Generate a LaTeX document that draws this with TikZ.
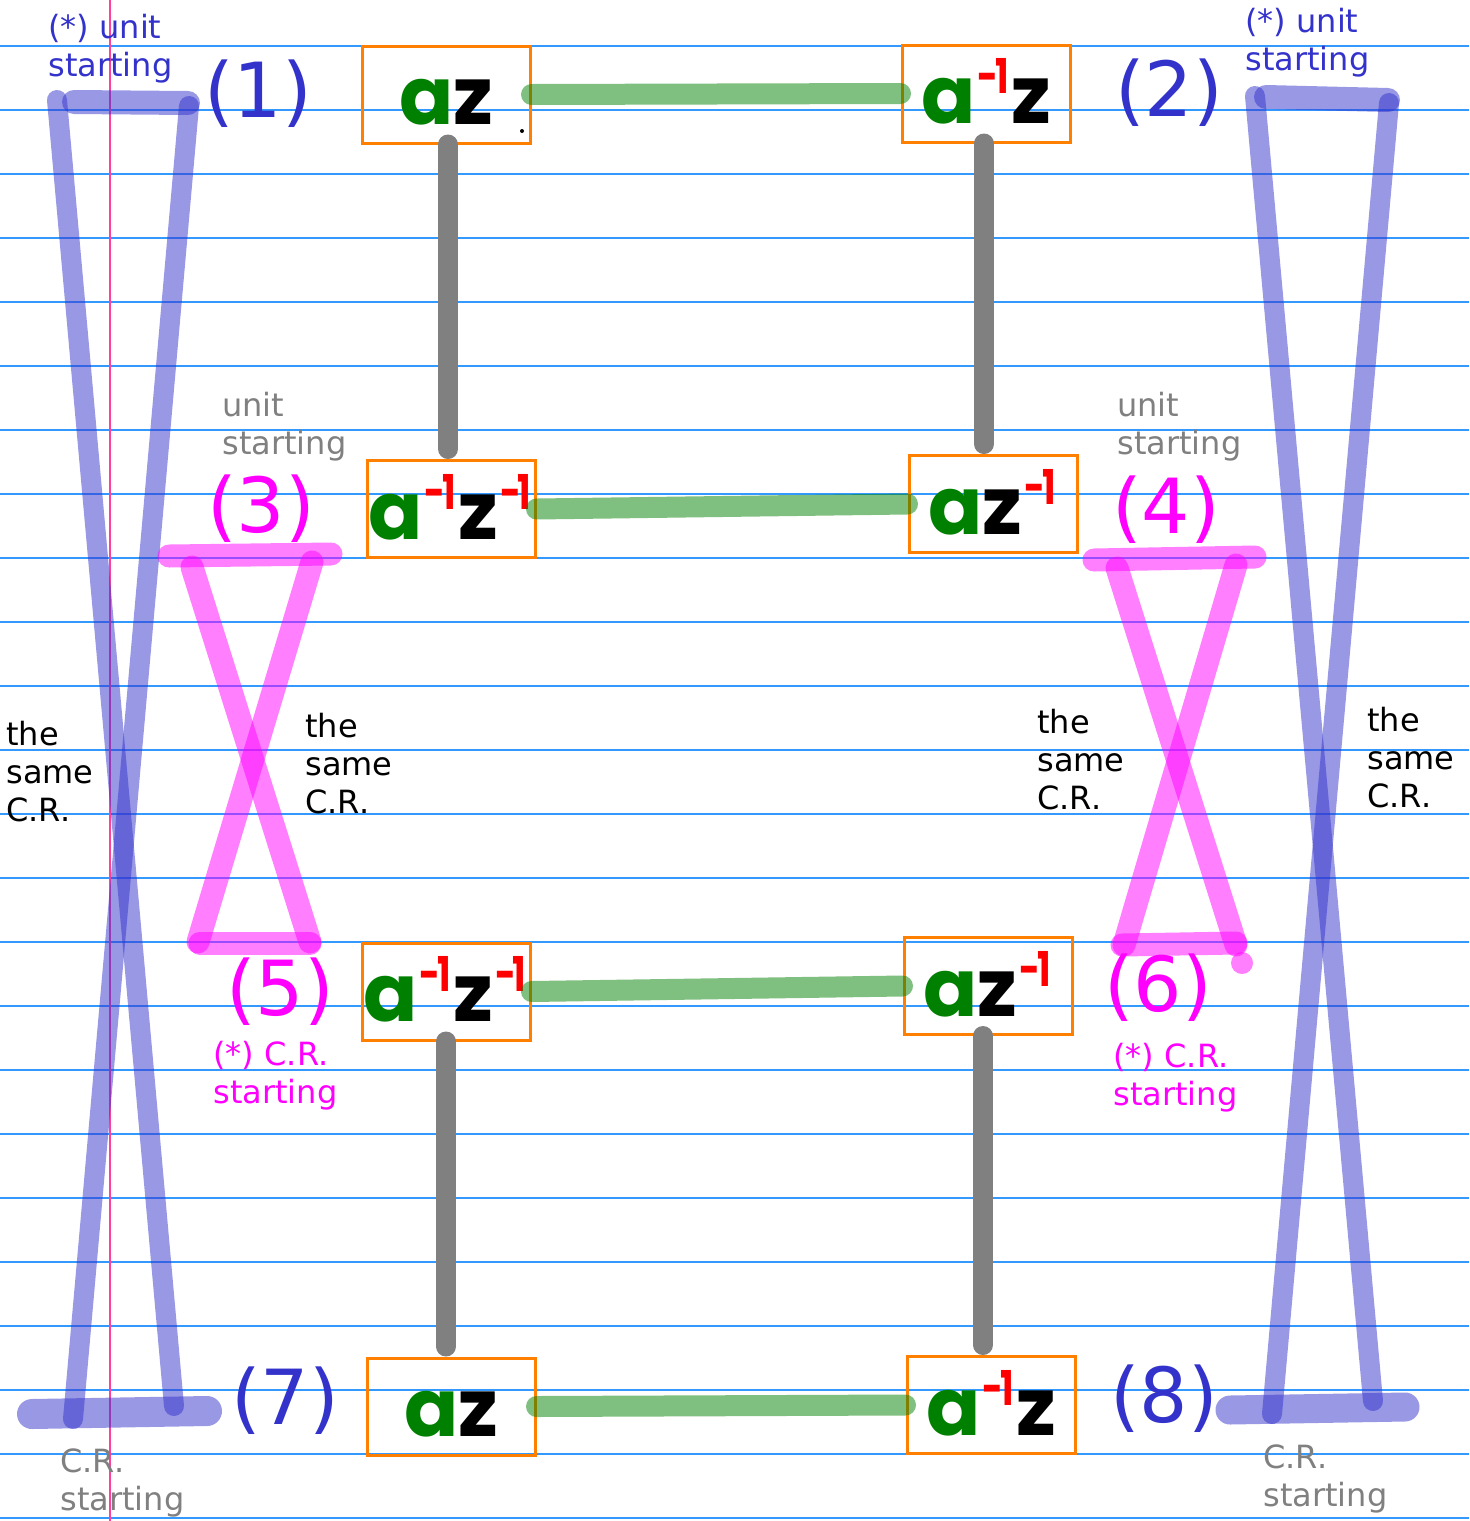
\documentclass[tikz,border=0pt]{standalone}
\usepackage{fontspec}
\usepackage{graphicx}
\setmainfont{DejaVu Sans}
\newfontfamily\handfont{Poppins}
\definecolor{penblue}{RGB}{51,51,204}
\definecolor{penmagenta}{RGB}{255,0,255}
\definecolor{pengreen}{RGB}{0,128,0}
\definecolor{penorange}{RGB}{255,128,0}
\definecolor{ruleblue}{RGB}{51,153,255}
\definecolor{marginpink}{RGB}{255,64,160}
\newcommand{\ga}{\textcolor{pengreen}{a}}
\newcommand{\inv}{\kern1pt\raisebox{15pt}{\scalebox{0.75}[1]{\fontsize{24}{24}\selectfont\color{red}-\kern-2pt 1}}\kern1pt}

\begin{document}
\begin{tikzpicture}[x=0.5pt,y=-0.5pt,
  term/.style={draw=penorange,line width=1.5pt,minimum width=84pt,minimum height=48.5pt,
    inner sep=0pt,text height=30pt,text depth=0pt,
    font=\handfont\bfseries\fontsize{40}{40}\selectfont},
  samelink/.style={pengreen,opacity=.5,line width=10.5pt,line cap=round},
  steplink/.style={gray,line width=10pt,line cap=round,shorten >=5pt},
  bluestroke/.style={penblue,opacity=.5,line width=10pt,line cap=round},
  pinkstroke/.style={penmagenta,opacity=.5,line width=11.5pt,line cap=round},
  note/.style={anchor=north west,align=left,inner sep=0pt,font=\fontsize{16}{19}\selectfont},
  num/.style={inner sep=0pt,font=\fontsize{38}{38}\selectfont}]
  \fill[white] (0,0) rectangle (1469,1521);
  \useasboundingbox (0,0) rectangle (1469,1521);
  % notebook paper
  \foreach \k in {0,...,23}
    \draw[ruleblue,line width=0.8pt] (0,{46+64*\k}) -- (1469,{46+64*\k});
  \draw[marginpink,line width=1pt] (110,0) -- (110,1521);
  % blue crosses
  \draw[bluestroke,line width=12pt] (74,102) -- (188,103);
  \draw[bluestroke] (57,100) -- (174,1406);
  \draw[bluestroke] (189,106) -- (73,1419);
  \draw[bluestroke,line width=15pt] (32,1414) -- (207,1411);
  \draw[bluestroke,line width=12pt] (1266,97) -- (1388,100);
  \draw[bluestroke] (1255,96) -- (1373,1401);
  \draw[bluestroke] (1389,103) -- (1272,1414);
  \draw[bluestroke,line width=14.5pt] (1230,1410) -- (1405,1407);
  % magenta crosses
  \draw[pinkstroke] (169,556) -- (331,554);
  \draw[pinkstroke] (192,567) -- (310,942);
  \draw[pinkstroke] (312,562) -- (198,942);
  \draw[pinkstroke] (200,943) -- (310,943);
  \draw[pinkstroke] (1094,560) -- (1255,557);
  \draw[pinkstroke] (1117,568) -- (1236,945);
  \draw[pinkstroke] (1236,565) -- (1124,945);
  \draw[pinkstroke] (1122,945) -- (1236,943);
  \fill[penmagenta,opacity=.5] (1242,963) circle (5.5pt);
  % terms
  \node[term] (b1) at (446,94.5) {\ga z};
  \node[term] (b2) at (986,93.5) {\ga\inv z};
  \node[term] (b3) at (451,509) {\ga\inv z\inv};
  \node[term] (b4) at (993,504) {\ga z\inv};
  \node[term] (b5) at (446,991.5) {\ga\inv z\inv};
  \node[term] (b6) at (988,986) {\ga z\inv};
  \node[term] (b7) at (451,1406.5) {\ga z};
  \node[term] (b8) at (991,1405) {\ga\inv z};
  \fill (522,131) circle (1pt);
  % links
  \draw[samelink] (b1.east) -- (b2.west);
  \draw[samelink] (b3.east) -- (b4.west);
  \draw[samelink] (b5.east) -- (b6.west);
  \draw[samelink] (b7.east) -- (b8.west);
  \draw[steplink] ([xshift=1pt]b1.south) -- ([xshift=1pt]b1.south |- b3.north);
  \draw[steplink] ([xshift=-1pt]b2.south) -- ([xshift=-1pt]b2.south |- b4.north);
  \draw[steplink] (b5.south) -- (b5.south |- b7.north);
  \draw[steplink] ([xshift=-2.5pt]b6.south) -- ([xshift=-2.5pt]b6.south |- b8.north);
  % numbers
  \node[num,penblue] (n1) at (258,94) {(1)};
  \node[num,penblue] (n2) at (1169,93) {(2)};
  \node[num,penmagenta] (n3) at (261,509) {(3)};
  \node[num,penmagenta] (n4) at (1166,510) {(4)};
  \node[num,penmagenta] (n5) at (280,992) {(5)};
  \node[num,penmagenta] (n6) at (1158,988) {(6)};
  \node[num,penblue] (n7) at (285,1401) {(7)};
  \node[num,penblue] (n8) at (1164,1399) {(8)};
  % notes
  \node[note,penblue] (u1) at (48,14) {(*) unit\\starting};
  \node[note,penblue] (u2) at (1245,8) {(*) unit\\starting};
  \node[note,gray] (u3) at (222,392) {unit\\starting};
  \node[note,gray] (u4) at (1117,392) {unit\\starting};
  \node[note] (s1) at (6,721) {the\\same\\C.R.};
  \node[note] (s2) at (305,713) {the\\same\\C.R.};
  \node[note] (s3) at (1037,709) {the\\same\\C.R.};
  \node[note] (s4) at (1367,707) {the\\same\\C.R.};
  \node[note,penmagenta] (c5) at (213,1041) {(*) C.R.\\starting};
  \node[note,penmagenta] (c6) at (1113,1043) {(*) C.R.\\starting};
  \node[note,gray] (c7) at (60,1448) {C.R.\\starting};
  \node[note,gray] (c8) at (1263,1444) {C.R.\\starting};
\end{tikzpicture}
\end{document}
